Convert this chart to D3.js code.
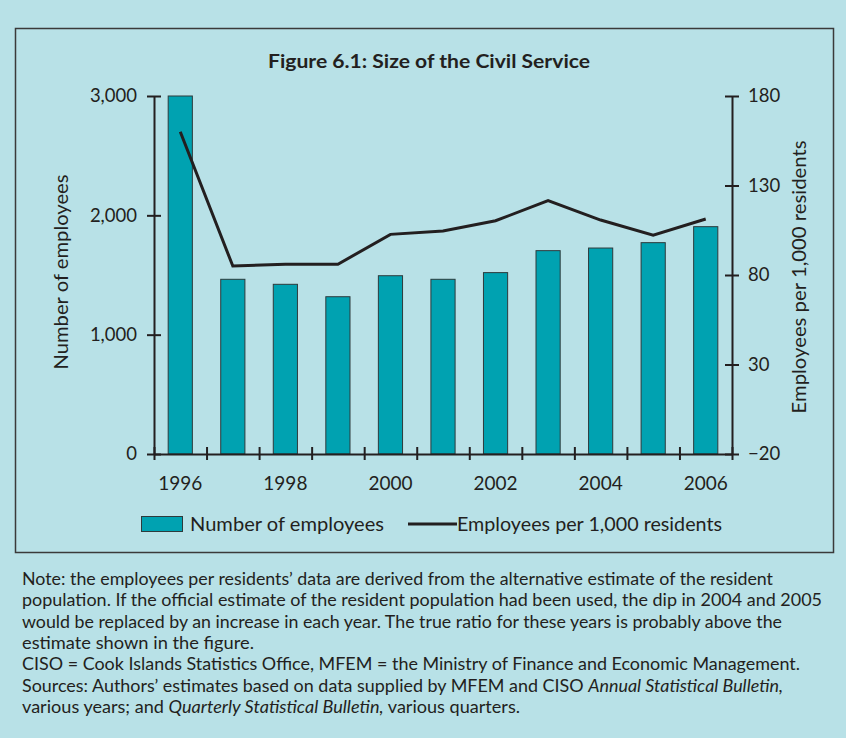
<!DOCTYPE html>
<html><head><meta charset="utf-8">
<script src="https://cdn.jsdelivr.net/npm/d3@7/dist/d3.min.js"></script>
<style>
html,body{margin:0;padding:0;background:#b8e1e7;}
svg{display:block;font-family:Lato, "Open Sans", sans-serif;}
</style></head>
<body>
<svg id="chart" width="846" height="738"></svg>
<script>
const years = [1996,1997,1998,1999,2000,2001,2002,2003,2004,2005,2006];
const employees = [3000,1464,1422,1318,1494,1464,1520,1704,1726,1771,1905];
const perThousand = [160,85,86,86,102.7,104.6,110.3,121.5,110.7,102.3,111.3];
const leftTicks = [0,1000,2000,3000];
const rightTicks = [-20,30,80,130,180];
const xLabels = [1996,1998,2000,2002,2004,2006];
const title = "Figure 6.1: Size of the Civil Service";
const noteLines = [
 {t:[{s:"Note: the employees per residents\u2019 data are derived from the alternative estimate of the resident"}], w:751},
 {t:[{s:"population. If the official estimate of the resident population had been used, the dip in 2004 and 2005"}], w:800},
 {t:[{s:"would be replaced by an increase in each year. The true ratio for these years is probably above the"}], w:760},
 {t:[{s:"estimate shown in the figure."}], w:232},
 {t:[{s:"CISO = Cook Islands Statistics Office, MFEM = the Ministry of Finance and Economic Management."}], w:778},
 {t:[{s:"Sources: Authors\u2019 estimates based on data supplied by MFEM and CISO "},{s:"Annual Statistical Bulletin,",i:true}], w:761},
 {t:[{s:"various years; and "},{s:"Quarterly Statistical Bulletin,",i:true},{s:" various quarters."}], w:498}
];

const svg = d3.select("#chart");
const ink = "#231f20";
const teal = "#00a2b1";

// frame
svg.append("rect").attr("x",15.5).attr("y",28.5).attr("width",818).attr("height",524)
  .attr("fill","none").attr("stroke","#3a3a3a").attr("stroke-width",1.5);

const L = 154, R = 732, T = 96, B = 454;
const x = d3.scaleBand().domain(years).range([L,R]).paddingInner(0.54).paddingOuter(0.27);
const xEdge = d3.scaleLinear().domain([1995.5,2006.5]).range([L,R]);
const yL = d3.scaleLinear().domain([0,3000]).range([B,T]);
const yR = d3.scaleLinear().domain([-20,180]).range([B,T]);

function fitText(sel, w){
  sel.each(function(){ if(w) d3.select(this).attr("textLength",w).attr("lengthAdjust","spacingAndGlyphs"); });
}

// title
svg.append("text").attr("x",429).attr("y",68).attr("text-anchor","middle")
  .attr("font-size",18.5).attr("font-weight","bold").attr("fill",ink).text(title)
  .call(fitText,322);

// bars
svg.append("g").selectAll("rect").data(years).join("rect")
  .attr("x",d=>x(d)).attr("width",x.bandwidth())
  .attr("y",(d,i)=>yL(employees[i])).attr("height",(d,i)=>B-yL(employees[i]))
  .attr("fill",teal).attr("stroke","#2e3a3c").attr("stroke-width",1);

// line
const line = d3.line().x((d,i)=>x(years[i])+x.bandwidth()/2).y(d=>yR(d));
svg.append("path").datum(perThousand).attr("d",line)
  .attr("fill","none").attr("stroke",ink).attr("stroke-width",3).attr("stroke-linejoin","miter");

function styleAxis(g){
  g.selectAll("path.domain").attr("stroke",ink).attr("stroke-width",2);
  g.selectAll(".tick line").attr("stroke",ink).attr("stroke-width",2);
  g.selectAll(".tick text").attr("fill",ink).attr("font-size",18.5).attr("font-family","Lato, sans-serif");
}

// left axis
const gL = svg.append("g").attr("transform",`translate(${L},0)`)
  .call(d3.axisLeft(yL).tickValues(leftTicks).tickFormat(d3.format(",")).tickSize(7).tickSizeOuter(0).tickPadding(10));
gL.selectAll(".tick line").attr("x1",7);
styleAxis(gL);

// right axis
const gR = svg.append("g").attr("transform",`translate(${R},0)`)
  .call(d3.axisRight(yR).tickValues(rightTicks).tickSize(7).tickSizeOuter(0).tickPadding(9));
gR.selectAll(".tick line").attr("x1",-7);
styleAxis(gR);

// bottom axis: ticks at category edges
const gB = svg.append("g").attr("transform",`translate(0,${B})`)
  .call(d3.axisBottom(xEdge).tickValues(d3.range(1995.5,2007,1)).tickFormat("").tickSize(6).tickSizeOuter(0));
gB.selectAll(".tick line").attr("y1",-7);
styleAxis(gB);
const gBL = svg.append("g").attr("transform",`translate(0,${B})`)
  .call(d3.axisBottom(x).tickValues(xLabels).tickSize(0).tickPadding(23));
gBL.select("path.domain").remove();
styleAxis(gBL);
gBL.selectAll(".tick text").attr("font-size",19);

// axis titles
svg.append("text").attr("transform",`translate(68,272) rotate(-90)`).attr("text-anchor","middle")
  .attr("font-size",19).attr("fill",ink).text("Number of employees").call(fitText,195);
svg.append("text").attr("transform",`translate(806,277) rotate(-90)`).attr("text-anchor","middle")
  .attr("font-size",19).attr("fill",ink).text("Employees per 1,000 residents").call(fitText,273);

// legend
const lg = svg.append("g");
lg.append("rect").attr("x",141.5).attr("y",516.5).attr("width",41).attr("height",15)
  .attr("fill",teal).attr("stroke","#2e3a3c").attr("stroke-width",1);
lg.append("text").attr("x",190).attr("y",530.5).attr("font-size",19).attr("fill",ink)
  .text("Number of employees").call(fitText,194);
lg.append("line").attr("x1",408).attr("x2",457).attr("y1",524).attr("y2",524)
  .attr("stroke",ink).attr("stroke-width",3);
lg.append("text").attr("x",457).attr("y",530.5).attr("font-size",19).attr("fill",ink)
  .text("Employees per 1,000 residents").call(fitText,265);

// notes
const ng = svg.append("g");
noteLines.forEach((ln,i)=>{
  const t = ng.append("text").attr("x",22).attr("y",585+i*21.3).attr("font-size",16.5).attr("fill",ink);
  ln.t.forEach(p=>{ t.append("tspan").attr("font-style",p.i?"italic":null).text(p.s); });
  t.call(fitText, ln.w);
});
</script>
</body></html>
